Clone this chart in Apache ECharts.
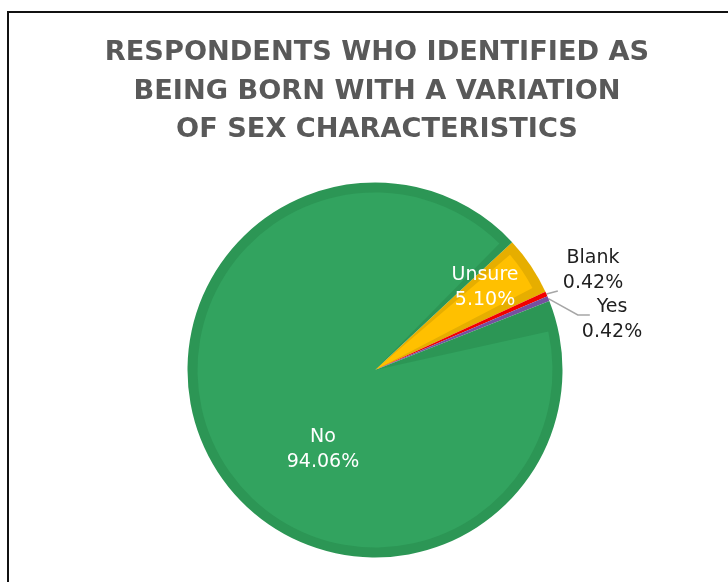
<!DOCTYPE html>
<html>
<head>
<meta charset="utf-8">
<script src="https://cdn.jsdelivr.net/npm/echarts@6/dist/echarts.min.js"></script>
<style>
  html, body { margin: 0; padding: 0; background: #ffffff; }
  #chart { width: 728px; height: 582px; }
</style>
</head>
<body>
<div id="chart"></div>
<script>
// Survey answers, share of respondents (%)
const categories = ['Unsure', 'Blank', 'Yes', 'No'];
const shares = [5.10, 0.42, 0.42, 94.06];

// Slice styling: rim/edge tone and lighter face tone
const edgeColors = ['#E6AE00', '#F20000', '#7650A0', '#2C9655'];
const faceColors = ['#FFC000', '#FF0000', '#7A52A3', '#32A35F'];
const labelInk = ['#ffffff', '#1f1f1f', '#1f1f1f', '#ffffff'];
const labelInside = [true, false, false, true];
// Label centres in pixels
const labelSpots = [[485, 288], [593, 271], [612, 320], [323, 450]];

const CENTER = [375, 370];
const OUTER_R = 187.5;
const FACE_R = 177.5;

const chart = echarts.init(document.getElementById('chart'), null, { renderer: 'canvas' });

const fmtPct = v => v.toFixed(2) + '%';

const rimData = categories.map((name, i) => ({
  name, value: shares[i], itemStyle: { color: edgeColors[i] }
}));
const faceData = categories.map((name, i) => ({
  name, value: shares[i], itemStyle: { color: faceColors[i] }
}));
const labelData = categories.map((name, i) => ({
  name, value: shares[i],
  itemStyle: { color: 'rgba(0,0,0,0)' },
  label: {
    show: true,
    position: labelInside[i] ? 'inside' : 'outside',
    color: labelInk[i]
  },
  labelLine: { show: !labelInside[i] }
}));

chart.setOption({
  animation: false,
  backgroundColor: '#ffffff',
  title: {
    text: 'RESPONDENTS WHO IDENTIFIED AS\nBEING BORN WITH A VARIATION\nOF SEX CHARACTERISTICS',
    left: 372,
    textAlign: 'center',
    top: 29,
    textStyle: {
      fontFamily: 'DejaVu Sans',
      fontWeight: 'bold',
      fontSize: 27.2,
      lineHeight: 38.3,
      color: '#595959'
    }
  },
  graphic: [
    { type: 'line', shape: { x1: 8, y1: 12, x2: 728, y2: 12 }, style: { stroke: '#111', lineWidth: 2 } },
    { type: 'line', shape: { x1: 8, y1: 11, x2: 8, y2: 582 }, style: { stroke: '#111', lineWidth: 2 } }
  ],
  series: [
    {
      type: 'pie', center: CENTER, radius: OUTER_R, startAngle: 43, clockwise: true,
      silent: true, label: { show: false }, labelLine: { show: false },
      data: rimData
    },
    {
      type: 'pie', center: CENTER, radius: FACE_R, startAngle: 43, clockwise: true,
      padAngle: 5, silent: true, label: { show: false }, labelLine: { show: false },
      data: faceData
    },
    {
      type: 'pie', center: CENTER, radius: OUTER_R, startAngle: 43, clockwise: true,
      silent: true,
      label: {
        fontFamily: 'DejaVu Sans',
        fontSize: 19,
        lineHeight: 25,
        align: 'center',
        formatter: p => p.name + '\n' + fmtPct(p.value)
      },
      labelLine: { lineStyle: { color: '#A6A6A6', width: 1.5 } },
      labelLayout: function (params) {
        const spot = labelSpots[params.dataIndex];
        const out = { x: spot[0], y: spot[1], align: 'center', verticalAlign: 'middle' };
        if (params.labelLinePoints) {
          const start = params.labelLinePoints[0];
          const lr = params.labelRect;
          const left = spot[0] - lr.width / 2;
          if (params.dataIndex === 1) {
            const endY = spot[1] + 20;
            out.labelLinePoints = [start, [left - 5, endY], [left - 5, endY]];
          } else {
            const endY = spot[1] - 5;
            out.labelLinePoints = [start, [left - 4, endY], [left + 8, endY]];
          }
        }
        return out;
      },
      data: labelData
    }
  ]
});
</script>
</body>
</html>
